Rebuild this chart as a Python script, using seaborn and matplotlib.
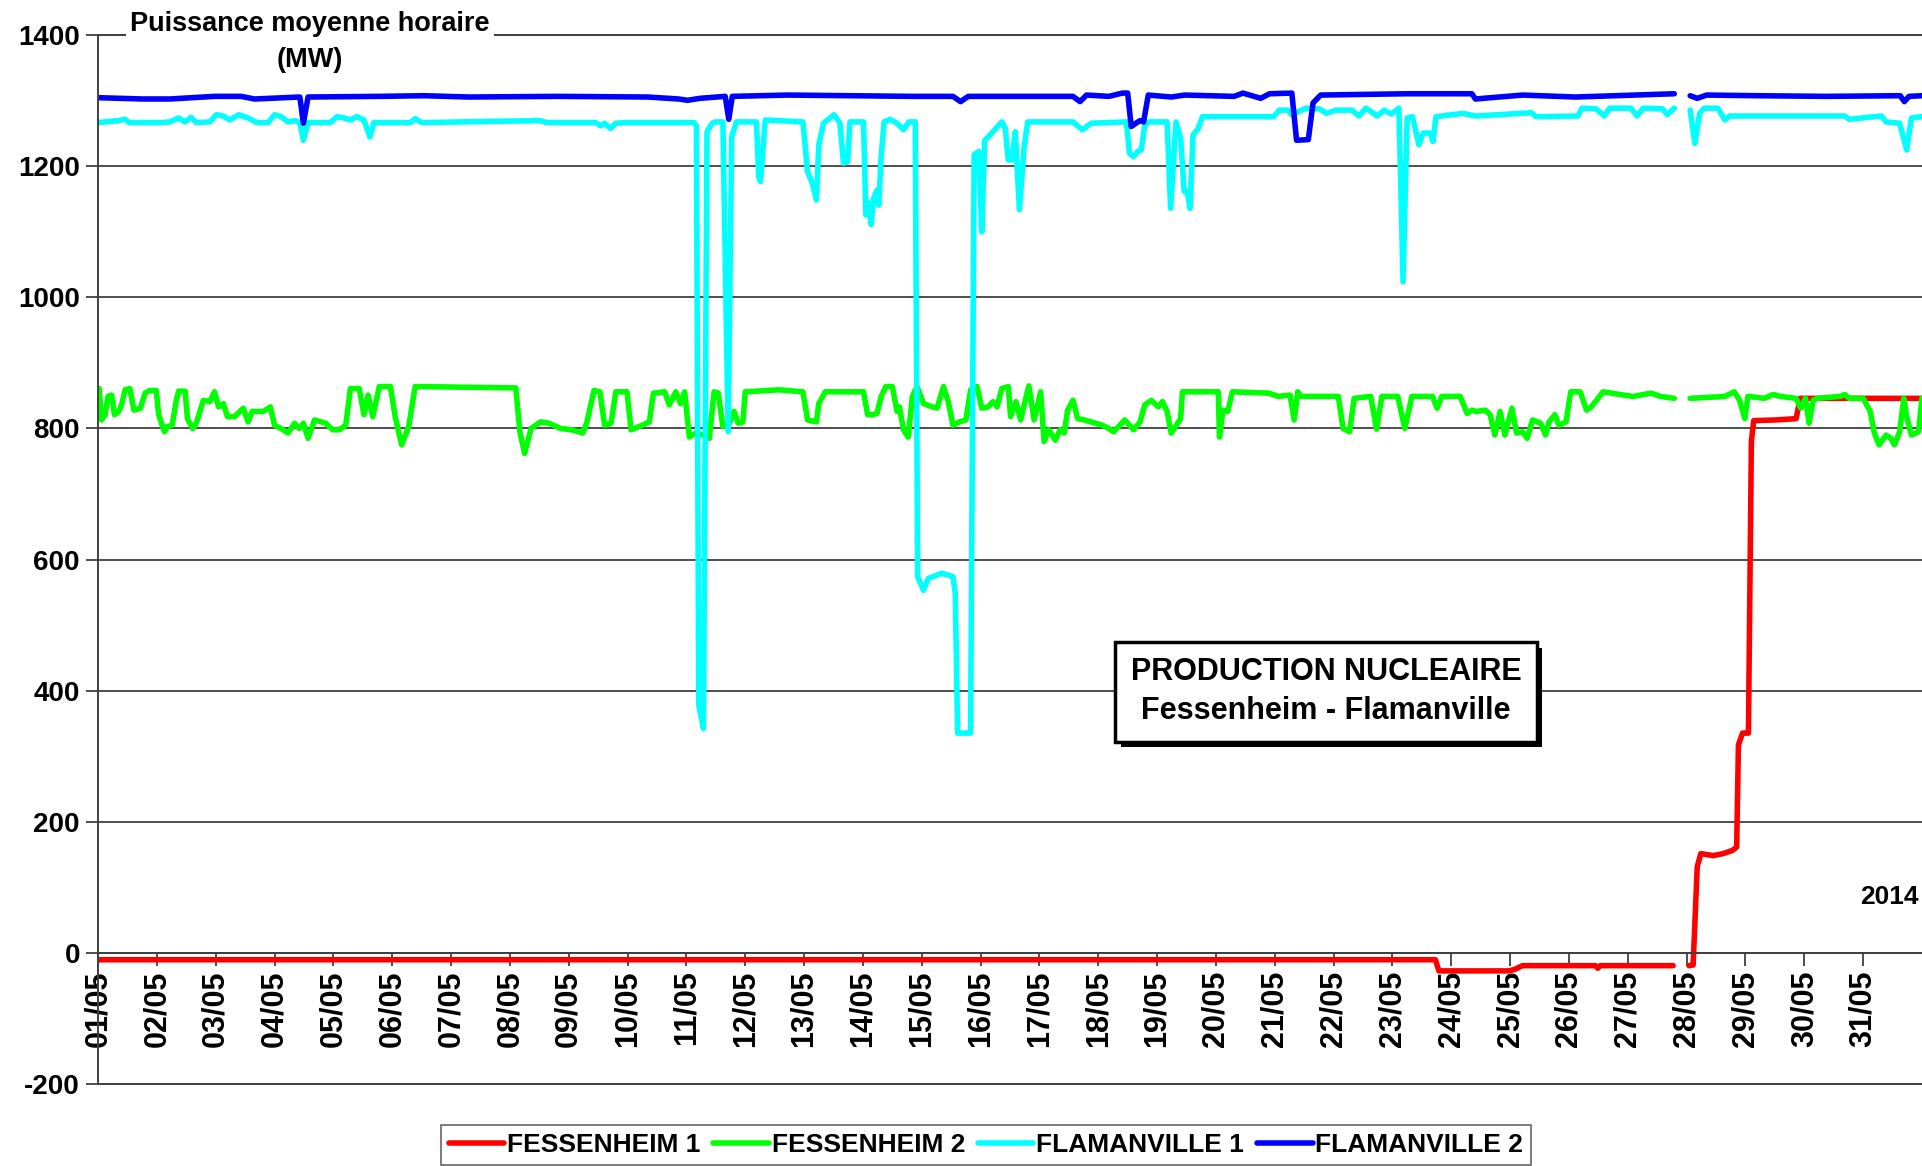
import numpy as np
import pandas as pd
import matplotlib
matplotlib.use('Agg')
import matplotlib.pyplot as plt
import matplotlib.patheffects as pe
from matplotlib.lines import Line2D
import seaborn as sns

nan = np.nan

# Production nucleaire horaire - mai 2014
# jours = temps en jours depuis le 01/05 00h, mw = puissance moyenne horaire (MW)
unites = ['FESSENHEIM 1', 'FESSENHEIM 2', 'FLAMANVILLE 1', 'FLAMANVILLE 2']
couleurs = ['#FF0000', '#00FF00', '#00FFFF', '#0000FF']

jours_fes1 = [0.00, 22.73, 22.79, 23.97, 24.07, 24.21, 25.45, 25.49, 25.53, 26.77,
              nan, 27.04, 27.11, 27.18, 27.24, 27.45, 27.62, 27.78, 27.85, 27.88,
              27.95, 28.05, 28.10, 28.14, 28.50, 28.86, 28.93, 31.00]
mw_fes1 = [-11, -11, -28, -28, -26, -20, -20, -24, -20, -20,
           nan, -20, -19, 131, 151, 148, 151, 156, 161, 317,
           335, 335, 780, 812, 813, 815, 846, 846]

jours_fes2 = [0.02, 0.06, 0.12, 0.17, 0.23, 0.28, 0.35, 0.40, 0.46, 0.54,
              0.61, 0.72, 0.80, 0.88, 0.99, 1.03, 1.13, 1.18, 1.26, 1.33,
              1.37, 1.48, 1.52, 1.61, 1.67, 1.79, 1.90, 1.98, 2.05, 2.13,
              2.20, 2.32, 2.47, 2.55, 2.62, 2.81, 2.93, 3.00, 3.11, 3.23,
              3.34, 3.42, 3.49, 3.57, 3.68, 3.87, 3.99, 4.10, 4.21, 4.29,
              4.44, 4.52, 4.59, 4.67, 4.78, 4.97, 5.05, 5.16, 5.28, 5.39,
              7.10, 7.17, 7.25, 7.36, 7.52, 7.67, 7.86, 8.05, 8.24, 8.31,
              8.43, 8.53, 8.61, 8.72, 8.80, 8.99, 9.06, 9.25, 9.37, 9.44,
              9.63, 9.71, 9.82, 9.90, 9.97, 10.05, 10.16, 10.28, 10.39, 10.47,
              10.54, 10.62, 10.73, 10.81, 10.88, 10.96, 11.00, 11.57, 11.98, 12.06,
              12.21, 12.25, 12.36, 13.01, 13.08, 13.16, 13.24, 13.31, 13.39, 13.50,
              13.58, 13.62, 13.69, 13.77, 13.84, 13.92, 14.03, 14.18, 14.26, 14.37,
              14.45, 14.53, 14.64, 14.75, 14.83, 14.94, 15.02, 15.13, 15.21, 15.28,
              15.36, 15.47, 15.51, 15.60, 15.68, 15.82, 15.91, 16.02, 16.08, 16.16,
              16.27, 16.35, 16.42, 16.48, 16.57, 16.65, 16.76, 16.95, 17.07, 17.18,
              17.26, 17.45, 17.60, 17.71, 17.79, 17.90, 18.02, 18.09, 18.17, 18.24,
              18.40, 18.43, 19.04, 19.06, 19.12, 19.20, 19.28, 19.90, 20.06, 20.26,
              20.33, 20.39, 20.45, 21.08, 21.16, 21.27, 21.35, 21.63, 21.73, 21.82,
              22.09, 22.21, 22.33, 22.68, 22.76, 22.84, 23.15, 23.27, 23.35, 23.42,
              23.58, 23.66, 23.74, 23.83, 23.91, 24.03, 24.11, 24.21, 24.29, 24.38,
              24.52, 24.60, 24.66, 24.76, 24.83, 24.95, 25.03, 25.19, 25.30, 25.38,
              25.58, 25.93, 26.09, 26.40, 26.55, 26.79, nan, 27.06, 27.65, 27.81,
              27.90, 27.99, 28.04, 28.32, 28.47, 28.59, 28.86, 28.94, 29.02, 29.08,
              29.15, 29.22, 29.61, 29.69, 29.76, 30.00, 30.12, 30.19, 30.27, 30.39,
              30.47, 30.53, 30.62, 30.69, 30.74, 30.82, 30.94, 31.00]
mw_fes2 = [861, 813, 821, 849, 851, 821, 826, 836, 859, 861,
           828, 831, 854, 858, 858, 821, 795, 803, 805, 843,
           857, 857, 815, 800, 808, 843, 841, 856, 833, 838,
           818, 818, 831, 810, 826, 826, 833, 805, 800, 793,
           808, 800, 808, 785, 813, 808, 798, 798, 805, 861,
           861, 821, 851, 818, 864, 864, 818, 775, 803, 864,
           862, 795, 762, 800, 810, 808, 800, 798, 793, 810,
           858, 856, 805, 808, 856, 856, 798, 805, 810, 854,
           856, 836, 856, 838, 856, 787, 793, 790, 785, 856,
           854, 803, 808, 826, 808, 810, 856, 859, 856, 813,
           810, 838, 856, 856, 821, 821, 823, 849, 864, 864,
           826, 833, 798, 787, 849, 864, 838, 833, 831, 864,
           841, 805, 810, 813, 859, 864, 831, 833, 841, 833,
           861, 864, 818, 841, 813, 865, 813, 856, 780, 798,
           782, 798, 793, 828, 843, 815, 813, 808, 805, 800,
           795, 813, 798, 810, 836, 843, 833, 841, 826, 793,
           815, 856, 856, 787, 828, 826, 856, 854, 849, 851,
           813, 856, 849, 849, 800, 795, 846, 849, 799, 849,
           849, 800, 849, 849, 831, 849, 849, 823, 828, 826,
           828, 821, 790, 826, 790, 831, 793, 795, 785, 813,
           808, 790, 810, 821, 805, 810, 856, 856, 828, 833,
           856, 851, 849, 854, 849, 846, nan, 846, 849, 856,
           843, 815, 849, 846, 852, 849, 846, 831, 846, 808,
           843, 846, 849, 852, 846, 846, 826, 793, 775, 790,
           785, 775, 795, 846, 818, 790, 795, 846]

jours_fla1 = [0.00, 0.34, 0.46, 0.53, 1.07, 1.22, 1.37, 1.48, 1.58, 1.67,
              1.90, 2.01, 2.13, 2.24, 2.39, 2.55, 2.70, 2.89, 3.00, 3.11,
              3.23, 3.34, 3.43, 3.49, 3.57, 3.95, 4.06, 4.18, 4.29, 4.40,
              4.52, 4.62, 4.69, 5.31, 5.39, 5.50, 7.51, 7.63, 8.46, 8.54,
              8.61, 8.71, 8.80, 8.96, 10.13, 10.17, 10.21, 10.29, 10.35, 10.44,
              10.49, 10.62, 10.71, 10.77, 10.85, 11.19, 11.23, 11.26, 11.34, 11.98,
              12.06, 12.14, 12.21, 12.25, 12.33, 12.44, 12.51, 12.61, 12.67, 12.74,
              12.78, 13.01, 13.05, 13.08, 13.14, 13.18, 13.24, 13.27, 13.31, 13.36,
              13.46, 13.58, 13.69, 13.78, 13.89, 13.93, 14.03, 14.11, 14.34, 14.53,
              14.57, 14.61, 14.83, 14.89, 14.97, 15.02, 15.07, 15.13, 15.21, 15.36,
              15.42, 15.47, 15.53, 15.59, 15.66, 15.74, 15.80, 16.57, 16.73, 16.88,
              17.48, 17.53, 17.60, 17.67, 17.73, 17.79, 17.86, 18.17, 18.23, 18.32,
              18.40, 18.46, 18.51, 18.56, 18.61, 18.70, 18.77, 19.98, 20.08, 20.22,
              20.29, 20.53, 20.76, 20.88, 21.04, 21.31, 21.43, 21.55, 21.74, 21.86,
              21.98, 22.11, 22.18, 22.25, 22.34, 22.45, 22.52, 22.64, 22.69, 22.74,
              23.19, 23.42, 24.36, 24.44, 25.15, 25.22, 25.46, 25.60, 25.69, 26.05,
              26.16, 26.26, 26.59, 26.67, 26.79, nan, 27.06, 27.14, 27.22, 27.30,
              27.53, 27.65, 27.73, 29.69, 29.76, 30.31, 30.39, 30.62, 30.74, 30.82,
              31.00]
mw_fla1 = [1267, 1270, 1272, 1267, 1267, 1268, 1274, 1268, 1275, 1267,
           1268, 1279, 1277, 1271, 1279, 1274, 1267, 1267, 1279, 1276,
           1268, 1270, 1267, 1240, 1267, 1267, 1276, 1274, 1271, 1276,
           1271, 1245, 1267, 1267, 1273, 1267, 1270, 1267, 1267, 1262,
           1266, 1258, 1266, 1267, 1267, 1262, 378, 342, 1253, 1266,
           1268, 1268, 795, 1245, 1268, 1268, 1184, 1177, 1271, 1268,
           1192, 1174, 1149, 1233, 1266, 1274, 1279, 1266, 1205, 1207,
           1268, 1268, 1126, 1146, 1111, 1151, 1164, 1141, 1215, 1268,
           1272, 1266, 1256, 1268, 1268, 574, 553, 571, 579, 574,
           548, 335, 335, 1218, 1223, 1100, 1240, 1245, 1253, 1268,
           1258, 1210, 1210, 1253, 1134, 1230, 1268, 1268, 1256, 1266,
           1268, 1220, 1215, 1223, 1225, 1263, 1268, 1268, 1136, 1268,
           1243, 1162, 1162, 1136, 1248, 1258, 1276, 1276, 1286, 1286,
           1279, 1289, 1288, 1281, 1286, 1286, 1277, 1289, 1277, 1286,
           1280, 1289, 1024, 1274, 1276, 1233, 1251, 1251, 1238, 1276,
           1281, 1277, 1282, 1276, 1277, 1289, 1288, 1277, 1289, 1289,
           1277, 1289, 1288, 1279, 1289, nan, 1286, 1235, 1281, 1289,
           1289, 1271, 1277, 1277, 1272, 1277, 1268, 1266, 1225, 1274,
           1276]

jours_fla2 = [0.00, 0.76, 1.22, 1.98, 2.43, 2.66, 3.43, 3.49, 3.57, 4.78,
              5.54, 6.30, 7.82, 9.34, 9.87, 10.02, 10.23, 10.66, 10.72, 10.78,
              11.72, 13.84, 14.53, 14.66, 14.79, 16.57, 16.69, 16.80, 17.18, 17.41,
              17.50, 17.56, 17.64, 17.71, 17.77, 17.85, 18.24, 18.47, 19.31, 19.46,
              19.76, 19.91, 20.29, 20.37, 20.57, 20.65, 20.78, 22.25, 23.35, 23.41,
              24.21, 25.11, 26.79, nan, 27.06, 27.18, 27.34, 28.20, 29.37, 30.63,
              30.70, 30.78, 31.00]
mw_fla2 = [1305, 1303, 1303, 1307, 1307, 1303, 1306, 1266, 1306, 1307,
           1308, 1306, 1307, 1306, 1303, 1301, 1304, 1307, 1272, 1307,
           1309, 1307, 1307, 1299, 1307, 1307, 1299, 1309, 1307, 1312,
           1312, 1261, 1266, 1270, 1268, 1309, 1306, 1309, 1307, 1312,
           1304, 1311, 1312, 1240, 1241, 1297, 1309, 1311, 1311, 1303,
           1309, 1306, 1311, nan, 1308, 1304, 1309, 1308, 1307, 1308,
           1299, 1307, 1308]

graduations_y = [-200, 0, 200, 400, 600, 800, 1000, 1200, 1400]
etiquettes_y = ['-200', '0', '200', '400', '600', '800', '1000', '1200', '1400']
graduations_x = list(range(31))
etiquettes_x = ['01/05', '02/05', '03/05', '04/05', '05/05', '06/05', '07/05', '08/05',
                '09/05', '10/05', '11/05', '12/05', '13/05', '14/05', '15/05', '16/05',
                '17/05', '18/05', '19/05', '20/05', '21/05', '22/05', '23/05', '24/05',
                '25/05', '26/05', '27/05', '28/05', '29/05', '30/05', '31/05']

# Mise en forme longue, un segment par portion continue (trou de donnees le 27/05)
frames = []
for nom, jours, mw in zip(unites, [jours_fes1, jours_fes2, jours_fla1, jours_fla2],
                          [mw_fes1, mw_fes2, mw_fla1, mw_fla2]):
    df = pd.DataFrame({'jour': jours, 'MW': mw})
    df['segment'] = df['MW'].isna().cumsum()
    df = df.dropna()
    df['unite'] = nom
    frames.append(df)
data = pd.concat(frames, ignore_index=True)

sns.set_style('ticks')
plt.rcParams['font.family'] = ['Liberation Sans', 'DejaVu Sans']
plt.rcParams['font.weight'] = 'bold'
plt.rcParams['axes.unicode_minus'] = False
plt.rcParams['text.color'] = 'black'
plt.rcParams['xtick.labelcolor'] = 'black'
plt.rcParams['ytick.labelcolor'] = 'black'

gris = '#404040'

fig = plt.figure(figsize=(19.22, 11.66), dpi=100)
ax = fig.add_axes([0.051, 0.0707, 0.949, 0.8989])

sns.lineplot(data=data, x='jour', y='MW', hue='unite', units='segment', estimator=None,
             hue_order=unites, palette=dict(zip(unites, couleurs)), linewidth=4,
             sort=False, legend=False, ax=ax)

# axe des x sur la ligne 0 (a faire avant les etiquettes, sinon elles sont reinitialisees)
ax.spines['bottom'].set_position(('data', 0))
ax.spines['top'].set_visible(False)
ax.spines['right'].set_visible(False)
for s in ['left', 'bottom']:
    ax.spines[s].set_color(gris)
    ax.spines[s].set_linewidth(1.4)

ax.set_xlim(0, 31)
ax.set_ylim(-200, 1400)
ax.set_yticks(graduations_y)
ax.set_yticklabels(etiquettes_y, fontsize=20, fontweight='bold', color='black')
ax.set_xticks(graduations_x)
ax.set_xticklabels(etiquettes_x, rotation=90, fontsize=22, fontweight='bold', color='black')
ax.set_xlabel('')
ax.set_ylabel('')

ax.yaxis.grid(True, color=gris, linewidth=1.3)
ax.set_axisbelow(True)
ax.axhline(1400, color=gris, linewidth=1.4, clip_on=False, zorder=0.5)
ax.axhline(-200, color=gris, linewidth=1.4, clip_on=False, zorder=0.5)
ax.tick_params(axis='both', length=9, width=1.3, color=gris, direction='out', pad=4)

# titres et cartouche
fig.text(310 / 1922, 1 - 11 / 1166, 'Puissance moyenne horaire\n(MW)', ha='center', va='top',
         fontsize=19.5, fontweight='bold', linespacing=1.5, color='black',
         bbox=dict(facecolor='white', edgecolor='none', pad=3))

cartouche = ax.text(20.87, 398, 'PRODUCTION NUCLEAIRE\nFessenheim - Flamanville',
                    ha='center', va='center', fontsize=22, fontweight='bold', linespacing=1.4,
                    zorder=6, color='black',
                    bbox=dict(boxstyle='square,pad=0.5', facecolor='white', edgecolor='black',
                              linewidth=2.5))
cartouche.get_bbox_patch().set_path_effects([
    pe.SimplePatchShadow(offset=(4, -4), shadow_rgbFace='black', alpha=1.0),
    pe.Normal()])

ax.text(30.45, 85, '2014', ha='center', va='center', fontsize=19, fontweight='bold',
        color='black')

poignees = [Line2D([], [], color=c, linewidth=4) for c in couleurs]
leg = fig.legend(poignees, unites, loc='upper center', bbox_to_anchor=(0.513, 1 - 1125 / 1166),
                 ncol=4, frameon=True, fancybox=False, edgecolor=gris,
                 prop={'weight': 'bold', 'size': 19}, handlelength=2.1, handletextpad=0.1,
                 columnspacing=0.5, borderpad=0.3, borderaxespad=0)
leg.get_frame().set_linewidth(1.2)
for t in leg.get_texts():
    t.set_color('black')

fig.savefig('out.png', dpi=100)
